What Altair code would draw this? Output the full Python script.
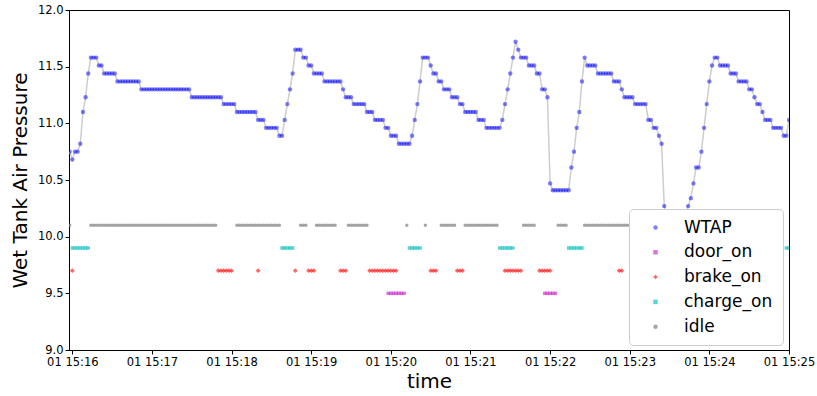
import altair as alt
import pandas as pd

# ---------------- data ----------------
START = "2021-01-01 15:15:58"   # first sample
STEP_SECONDS = 2                # one sample every 2 s

# Wet tank air pressure as (value, number of consecutive samples)
WTAP_RUNS = [
    (10.75, 1), (10.68, 1), (10.75, 2), (10.82, 1), (11.10, 1), (11.23, 1), (11.44, 1),
    (11.58, 3), (11.51, 2), (11.44, 5), (11.37, 9), (11.30, 19), (11.23, 12), (11.17, 5),
    (11.10, 8), (11.03, 3), (10.96, 5), (10.89, 2), (11.03, 1), (11.17, 1), (11.30, 1),
    (11.44, 1), (11.65, 3), (11.58, 2), (11.51, 2), (11.44, 4), (11.37, 7), (11.30, 1),
    (11.23, 3), (11.17, 5), (11.10, 3), (11.03, 4), (10.96, 2), (10.89, 3), (10.82, 5),
    (10.89, 1), (11.03, 1), (11.17, 1), (11.37, 1), (11.58, 3), (11.51, 1), (11.44, 2),
    (11.37, 2), (11.30, 3), (11.23, 3), (11.17, 2), (11.10, 5), (11.03, 3), (10.96, 6),
    (11.03, 1), (11.17, 1), (11.30, 1), (11.44, 1), (11.58, 1), (11.72, 1), (11.65, 1),
    (11.58, 3), (11.51, 3), (11.44, 2), (11.30, 2), (11.23, 1), (10.47, 1), (10.41, 7),
    (10.61, 1), (10.75, 1), (10.96, 1), (11.10, 1), (11.37, 1), (11.58, 1), (11.51, 4),
    (11.44, 6), (11.37, 3), (11.30, 1), (11.23, 4), (11.17, 5), (11.03, 2), (10.96, 2),
    (10.89, 1), (10.82, 1), (10.27, 1), (10.10, 1), (9.95, 6), (10.10, 1), (10.27, 1),
    (10.34, 1), (10.47, 1), (10.61, 2), (10.75, 1), (10.96, 1), (11.17, 1), (11.37, 1),
    (11.51, 1), (11.58, 2), (11.51, 4), (11.44, 3), (11.37, 4), (11.30, 2), (11.23, 1),
    (11.17, 2), (11.10, 1), (11.03, 3), (10.96, 4), (10.89, 2), (11.03, 1),
]

# indicator flags: inclusive ranges of sample numbers where the flag is on
IDLE_SPANS = [(0, 0), (8, 55), (63, 79), (87, 89), (93, 100), (105, 112), (127, 127),
              (134, 134), (140, 145), (149, 161), (171, 175), (184, 187), (194, 268)]
CHARGE_SPANS = [(1, 7), (80, 84), (128, 132), (162, 167), (188, 193), (270, 271)]
BRAKE_SPANS = [(1, 1), (56, 61), (71, 71), (85, 85), (90, 92), (102, 104), (113, 123),
               (136, 138), (146, 148), (164, 170), (177, 181), (207, 208)]
DOOR_SPANS = [(120, 126), (179, 183)]

FLAG_LEVEL = {"door_on": 9.5, "brake_on": 9.7, "charge_on": 9.9, "idle": 10.1}

SERIES = ["WTAP", "door_on", "brake_on", "charge_on", "idle"]
COLORS = ["#0000ff", "#bf00bf", "#ff0000", "#00bfbf", "#808080"]
OPACITIES = [0.5, 0.7, 0.7, 0.7, 0.7]
SHAPES = ["circle", "square", "diamond", "square", "circle"]

X_TICK_MINUTES = [16, 17, 18, 19, 20, 21, 22, 23, 24, 25]
Y_TICKS = [9.0, 9.5, 10.0, 10.5, 11.0, 11.5, 12.0]

# ---------------- tables ----------------
start = pd.Timestamp(START)
wtap_values = [v for v, n in WTAP_RUNS for _ in range(n)]
wtap_df = pd.DataFrame({
    "time": [start + pd.Timedelta(seconds=STEP_SECONDS * i) for i in range(len(wtap_values))],
    "value": wtap_values,
    "series": "WTAP",
})

rows = []
for name, spans in [("idle", IDLE_SPANS), ("charge_on", CHARGE_SPANS),
                    ("brake_on", BRAKE_SPANS), ("door_on", DOOR_SPANS)]:
    for a, b in spans:
        for i in range(a, b + 1):
            rows.append({"time": start + pd.Timedelta(seconds=STEP_SECONDS * i),
                         "value": FLAG_LEVEL[name], "series": name})
flag_df = pd.DataFrame(rows)
brake_df = flag_df[flag_df["series"] == "brake_on"]
other_flag_df = flag_df[flag_df["series"] != "brake_on"]

FONT = "DejaVu Sans"

def dt(m, s=0, ms=0):
    return alt.DateTime(year=2021, month=1, date=1, hours=15, minutes=m, seconds=s, milliseconds=ms)

x_enc = alt.X(
    "time:T",
    scale=alt.Scale(domain=[dt(15, 57, 500), dt(25)]),
    axis=alt.Axis(title="time", values=[dt(m) for m in X_TICK_MINUTES], format="%d %H:%M",
                  labelFlush=False, labelOverlap=False),
)
y_enc = alt.Y(
    "value:Q",
    scale=alt.Scale(domain=[9.0, 12.0], nice=False, zero=False),
    axis=alt.Axis(title="Wet Tank Air Pressure", values=Y_TICKS, format=".1f"),
)
legend = alt.Legend(title=None)
color_enc = alt.Color("series:N", scale=alt.Scale(domain=SERIES, range=COLORS), legend=legend)
shape_enc = alt.Shape("series:N", scale=alt.Scale(domain=SERIES, range=SHAPES), legend=legend)
opac_enc = alt.Opacity("series:N", scale=alt.Scale(domain=SERIES, range=OPACITIES), legend=legend)

line = alt.Chart(wtap_df).mark_line(color="#cdcdcd", strokeWidth=1.5, clip=True).encode(
    x=x_enc, y=y_enc)
wtap_pts = alt.Chart(wtap_df).mark_point(filled=True, size=19, strokeWidth=0, clip=True).encode(
    x=x_enc, y=y_enc, color=color_enc, shape=shape_enc, opacity=opac_enc)
flag_pts = alt.Chart(other_flag_df).mark_point(filled=True, size=12, strokeWidth=0, clip=True).encode(
    x=x_enc, y=y_enc, color=color_enc, shape=shape_enc, opacity=opac_enc)
brake_pts = alt.Chart(brake_df).mark_point(filled=True, size=24, strokeWidth=0, clip=True).encode(
    x=x_enc, y=y_enc, color=color_enc, shape=shape_enc, opacity=opac_enc)

chart = (
    alt.layer(line, wtap_pts, flag_pts, brake_pts)
    .properties(
        width=720, height=340,
        autosize=alt.AutoSizeParams(type="none"),
        padding={"left": 69, "top": 10, "right": 28, "bottom": 46},
    )
    .configure_view(stroke="black", strokeWidth=1)
    .configure_axis(
        grid=False, domainColor="black", domainWidth=1, tickColor="black", tickSize=4,
        tickWidth=1, labelColor="black", labelFont=FONT, labelFontSize=11.5,
        titleFont=FONT, titleFontSize=20, titleFontWeight="normal", titleColor="black",
        labelPadding=2,
    )
    .configure_axisX(titlePadding=4)
    .configure_axisY(titlePadding=7)
    .configure_legend(
        orient="none", legendX=560, legendY=199, fillColor="white", strokeColor="#cccccc",
        cornerRadius=4, padding=10, labelFont=FONT, labelFontSize=17, labelColor="black",
        symbolSize=20, symbolStrokeWidth=0, rowPadding=6.8, symbolOffset=8, labelOffset=20,
    )
)

chart.save("out.html", embed_options={"renderer": "svg", "actions": False})
